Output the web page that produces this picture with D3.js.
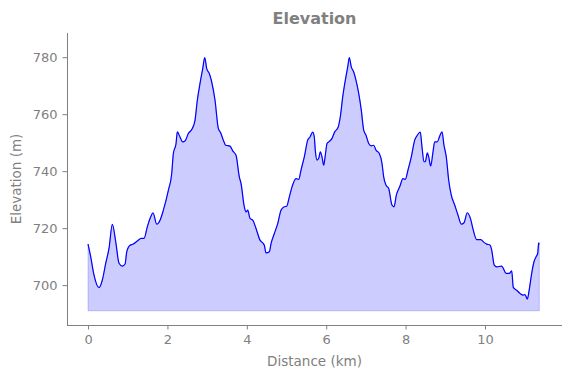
<!DOCTYPE html>
<html>
<head>
<meta charset="utf-8">
<script src="https://cdn.jsdelivr.net/npm/d3@7"></script>
<style>
  html, body { margin: 0; padding: 0; background: #fff; }
  svg { display: block; font-family: "DejaVu Sans", sans-serif; }
</style>
</head>
<body>
<svg id="chart" width="571" height="378"></svg>
<script>
const distanceKm = [0.000,0.068,0.151,0.277,0.360,0.446,0.529,0.612,0.698,0.781,0.864,0.932,0.975,1.058,1.141,1.242,1.343,1.411,1.494,1.579,1.637,1.730,1.814,1.897,2.023,2.108,2.149,2.217,2.249,2.317,2.385,2.443,2.526,2.627,2.695,2.753,2.821,2.889,2.940,2.990,3.055,3.116,3.199,3.282,3.343,3.408,3.469,3.577,3.645,3.728,3.811,3.854,3.937,3.980,4.023,4.081,4.149,4.232,4.332,4.401,4.441,4.484,4.567,4.610,4.693,4.778,4.861,4.945,5.005,5.071,5.139,5.239,5.307,5.365,5.448,5.534,5.592,5.660,5.700,5.725,5.768,5.811,5.851,5.894,5.937,5.977,6.020,6.063,6.146,6.214,6.297,6.355,6.416,6.481,6.542,6.582,6.632,6.693,6.751,6.819,6.884,6.945,7.003,7.071,7.136,7.196,7.254,7.338,7.406,7.448,7.506,7.574,7.657,7.708,7.766,7.851,7.935,7.992,8.060,8.144,8.229,8.295,8.370,8.413,8.463,8.496,8.547,8.582,8.632,8.690,8.733,8.798,8.859,8.917,8.967,9.025,9.086,9.151,9.237,9.320,9.403,9.471,9.554,9.640,9.705,9.791,9.892,9.975,10.043,10.126,10.169,10.234,10.295,10.421,10.461,10.529,10.612,10.673,10.713,10.798,10.882,10.965,11.008,11.066,11.116,11.176,11.234,11.285,11.327,11.353,11.368];
const elevationM = [714.4,709.9,703.5,699.1,701.8,707.7,713.0,721.3,715.2,707.7,706.7,707.4,711.7,714.0,714.4,715.5,716.4,716.4,720.5,724.0,725.4,721.4,722.8,726.3,733.3,739.2,746.2,749.7,753.8,752.0,750.3,750.6,753.2,755.0,757.9,764.9,770.8,776.0,779.9,776.0,774.3,771.3,764.9,755.0,753.4,750.9,749.1,748.8,747.1,745.6,738.0,735.7,727.5,725.7,726.3,723.4,722.8,719.9,715.8,714.8,714.0,711.3,711.7,714.6,718.1,721.6,726.3,727.5,727.7,731.0,734.5,737.4,737.1,740.4,745.0,750.9,752.0,753.7,752.0,747.4,743.9,744.5,746.8,745.0,742.1,745.6,749.7,750.3,751.5,753.8,755.3,759.1,766.1,771.9,776.6,779.9,776.6,774.8,771.9,767.3,761.4,754.4,752.6,749.7,748.9,749.1,747.4,746.2,742.7,738.0,735.1,733.9,728.1,727.5,731.6,734.5,737.4,737.1,740.4,745.0,750.9,752.6,753.7,748.5,743.3,743.3,746.4,745.0,741.8,746.8,750.3,750.3,752.3,753.8,749.1,745.0,736.8,731.6,728.1,724.6,721.4,721.9,725.4,723.1,719.3,716.0,716.0,715.0,714.4,714.1,712.3,707.0,706.4,706.7,705.9,704.1,704.1,705.0,699.2,698.2,697.1,696.5,696.7,695.1,698.5,704.1,708.2,709.9,711.1,714.8,714.3];
const baseElevation = 691;
const xTicks = [0, 2, 4, 6, 8, 10];
const yTicks = [700, 720, 740, 760, 780];
const titleText = "Elevation";
const xLabel = "Distance (km)";
const yLabel = "Elevation (m)";

const data = distanceKm.map((d, i) => ({ x: d, y: elevationM[i] }));

const svg = d3.select("#chart");
const mLeft = 67, mRight = 562, mTop = 33, mBottom = 325;
const textColor = "#808080";

const x = d3.scaleLinear().domain([-0.53, 11.94]).range([mLeft, mRight]);
const y = d3.scaleLinear().domain([686, 788.5]).range([mBottom, mTop]);

const area = d3.area().curve(d3.curveMonotoneX).x(d => x(d.x)).y0(y(baseElevation)).y1(d => y(d.y));
const line = d3.line().curve(d3.curveMonotoneX).x(d => x(d.x)).y(d => y(d.y));

svg.append("path").datum(data)
  .attr("d", area)
  .attr("fill", "rgba(0,0,255,0.2)")
  .attr("stroke", "rgba(0,0,255,0.2)")
  .attr("stroke-width", 1);

svg.append("path").datum(data)
  .attr("d", line)
  .attr("fill", "none")
  .attr("stroke", "#0000ff")
  .attr("stroke-width", 1.2)
  .attr("stroke-linejoin", "round");

const xAxis = d3.axisBottom(x).tickValues(xTicks).tickSize(4.5).tickPadding(5).tickSizeOuter(0);
const yAxis = d3.axisLeft(y).tickValues(yTicks).tickSize(4.5).tickPadding(5).tickSizeOuter(0);

const gx = svg.append("g").attr("transform", `translate(0,${mBottom})`).call(xAxis);
const gy = svg.append("g").attr("transform", `translate(${mLeft},0)`).call(yAxis);

[gx, gy].forEach(g => {
  g.select(".domain").attr("stroke", textColor).attr("stroke-width", 1);
  g.selectAll(".tick line").attr("stroke", textColor).attr("stroke-width", 1);
  g.selectAll(".tick text").attr("fill", textColor).attr("font-size", 13).attr("font-family", "DejaVu Sans, sans-serif");
});
gx.select(".domain").attr("d", `M${mLeft},0.5H${mRight}`);
gy.select(".domain").attr("d", `M0.5,${mTop}V${mBottom}`);

svg.append("text")
  .attr("x", (mLeft + mRight) / 2).attr("y", 24)
  .attr("text-anchor", "middle")
  .attr("font-size", 16).attr("font-weight", "bold")
  .attr("fill", textColor)
  .text(titleText);

svg.append("text")
  .attr("x", (mLeft + mRight) / 2).attr("y", 366)
  .attr("text-anchor", "middle")
  .attr("font-size", 13.5)
  .attr("fill", textColor)
  .text(xLabel);

svg.append("text")
  .attr("transform", `translate(21,${(mTop + mBottom) / 2}) rotate(-90)`)
  .attr("text-anchor", "middle")
  .attr("font-size", 13.5)
  .attr("fill", textColor)
  .text(yLabel);
</script>
</body>
</html>
